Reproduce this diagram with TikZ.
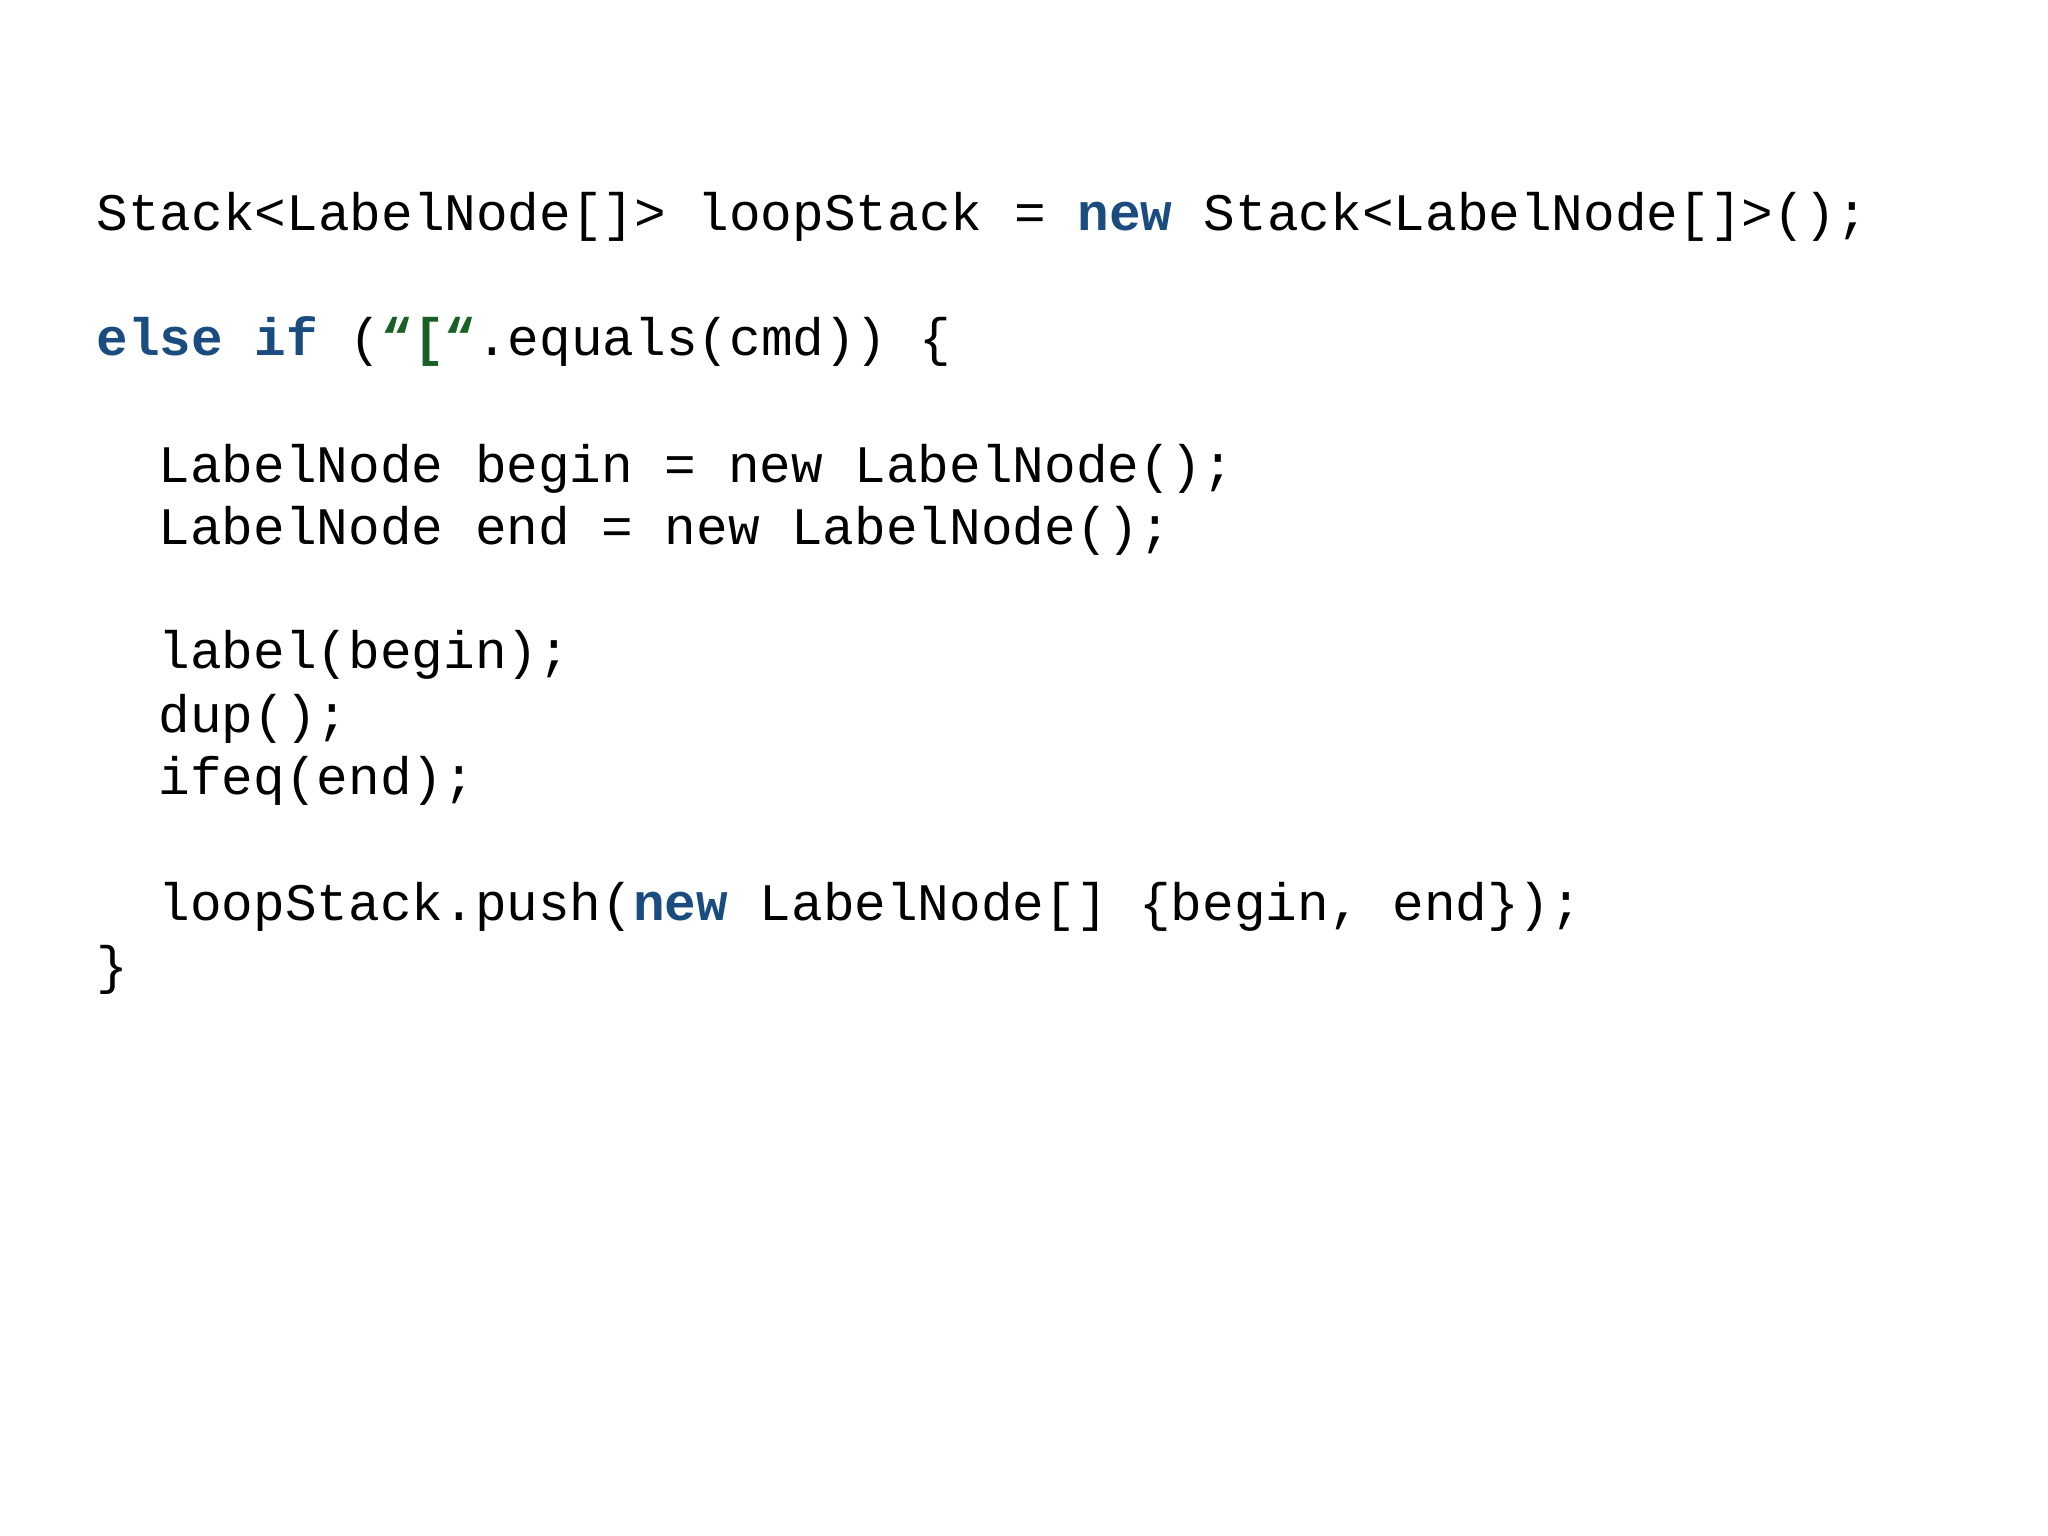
\documentclass[tikz,border=0pt]{standalone}
\usepackage{fontspec}
\setmonofont{Liberation Mono}
\usepackage{xcolor}
\definecolor{kwblue}{RGB}{26,76,128}
\definecolor{strgreen}{RGB}{24,96,36}
\newcommand{\kw}[1]{\textbf{\color{kwblue}#1}}
\newcommand{\str}[1]{\textbf{\color{strgreen}#1}}
\begin{document}
\begin{tikzpicture}[
    code/.style={anchor=base west, inner sep=0pt, font=\ttfamily\fontsize{15}{18}\selectfont, text=black},
    ]
  \useasboundingbox (0,0) rectangle (20.48,-15.36);
  % top level
  \node [code] (decl) at (0.96,-2.31) {Stack<LabelNode[]> loopStack = \kw{new} Stack<LabelNode[]>();};
  \node [code] (elseif) at (0.96,-3.56) {\kw{else} \kw{if} (\str{“[“}.equals(cmd)) \{};
  % body
  \node [code] (begin) at (1.58,-4.82) {LabelNode begin = new LabelNode();};
  \node [code] (end) at (1.58,-5.44) {LabelNode end = new LabelNode();};
  \node [code] (label) at (1.58,-6.69) {label(begin);};
  \node [code] (dup) at (1.58,-7.32) {dup();};
  \node [code] (ifeq) at (1.58,-7.94) {ifeq(end);};
  \node [code] (push) at (1.58,-9.20) {loopStack.push(\kw{new} LabelNode[] \{begin, end\});};
  \node [code] (close) at (0.96,-9.83) {\}};
\end{tikzpicture}
\end{document}
